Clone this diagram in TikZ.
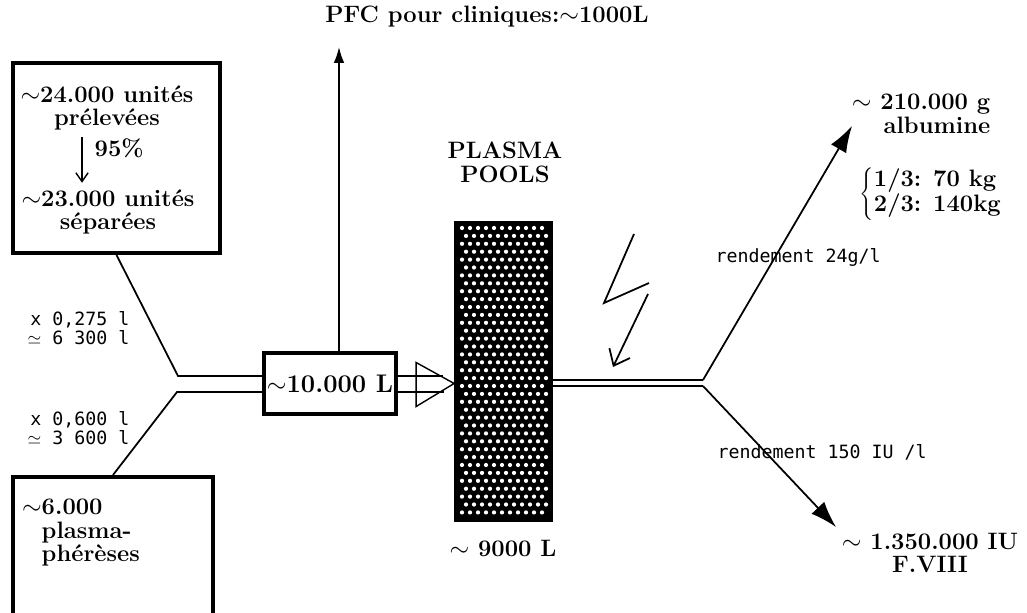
\documentclass[tikz,border=0pt]{standalone}
\usepackage{fontspec}
\newfontfamily\monofont{DejaVu Sans Mono}
\usetikzlibrary{arrows.meta,calc}

\begin{document}
\begin{tikzpicture}[x=0.02cm,y=-0.02cm,>={Latex[length=15pt,width=10pt]},line width=1pt,
  box/.style={draw,line width=2.3pt,inner sep=0pt},
  big/.style={font=\fontsize{13.5}{13.5}\selectfont\bfseries},
  mono/.style={font=\fontsize{10.4}{11}\selectfont\monofont},
  flow/.style={line width=0.8pt}]
  \clip (0,0) rectangle (1027,612);
  % --- donations ---
  \node[box,minimum width=4.14cm,minimum height=3.8cm] (don) at (116.5,158) {};
  \node[big,align=center] (don1) at (107,108) {$\sim$24.000 unités\\prélevées};
  \node[big,anchor=west] (pct) at (88,148) {95\%};
  \node[big,align=center] (don2) at (108,212) {$\sim$23.000 unités\\séparées};
  \coordinate (arx) at (82,0);
  \draw[-{Straight Barb[length=5pt,width=7pt]},line width=0.8pt] (don1.south -| arx) -- (don2.north -| arx);
  % --- apheresis ---
  \node[box,minimum width=4cm,minimum height=2.76cm] (aph) at (113,546) {};
  \node[big,align=left,anchor=north west] (aph1) at (35,492) {\llap{$\sim$}6.000\\plasma-\\phérèses};
  \node[mono,align=right,anchor=east] (qDon) at (136,328) {x 0,275 l\\$\simeq$ 6 300 l};
  \node[mono,align=right,anchor=east] (qAph) at (136,428) {x 0,600 l\\$\simeq$ 3 600 l};
  % --- collected volume ---
  \coordinate (jU) at (178,376);
  \coordinate (jL) at (177,392);
  \node[box,minimum width=2.64cm,minimum height=1.22cm,font=\fontsize{14.5}{16}\selectfont\bfseries] (vol) at (330,383.5) {$\sim$10.000 L};
  \draw (don.south) -- (jU) -- (jU -| vol.west);
  \draw (aph.north) -- (jL) -- (jL -| vol.west);
  % PFC
  \node[big] (pfc) at (487,17) {PFC pour cliniques:$\sim$1000L};
  \coordinate (pfcx) at (339,47);
  \draw[-{Latex[length=9pt,width=6pt]}] (vol.north -| pfcx) -- (pfcx);
  % --- plasma pools ---
  \node[draw,fill=black,minimum width=1.94cm,minimum height=5.98cm,inner sep=0pt] (pool) at (503.5,371.5) {};
  \foreach \r in {0,...,36}
    \foreach \c in {0,...,10}
      \fill[white] ({462+8*\c+4*mod(\r,2)},{228+7.9*\r}) circle (1.2pt);
  \node[big,align=center] (plab) at (505,162) {PLASMA\\POOLS};
  \node[big] (plvol) at (503,548) {$\sim$ 9000 L};
  \draw[flow] (vol.east |- jU) -- ++(45,0);
  \draw[flow] (vol.east |- jL) -- ++(46,0);
  \draw[flow] (pool.west |- vol.east) -- ++(-38,-21) -- ++(0,44) -- cycle;
  % --- fractionation ---
  \coordinate (jRu) at (703,380);
  \coordinate (jRl) at (703,386);
  \coordinate (albTip) at (852,126);
  \coordinate (f8Tip) at (836,527);
  \draw[flow] (pool.east |- jRu) -- (jRu);
  \draw[flow] (pool.east |- jRl) -- (jRl);
  \draw[->] (jRu) -- (albTip);
  \draw[->] (jRl) -- (f8Tip);
  \node[big,align=right,anchor=east] (alb) at (997,114) {$\sim$ 210.000 g\\albumine};
  \node[big,anchor=west] (frac) at (853,194) {$\left\{\begin{tabular}{@{}l@{}}1/3: 70 kg\\2/3: 140kg\end{tabular}\right.$};
  \node[big,align=center] (f8) at (930,553) {$\sim$ 1.350.000 IU\\F.VIII};
  \node[mono] (yAlb) at (798,257) {rendement 24g/l};
  \node[mono] (yF8) at (822,452) {rendement 150 IU /l};
  % bolt
  \draw (634,234) -- (604,303) -- (649,283);
  \draw[-{Straight Barb[length=8pt,width=13pt]}] (648,294) -- (613,367);
\end{tikzpicture}
\end{document}
